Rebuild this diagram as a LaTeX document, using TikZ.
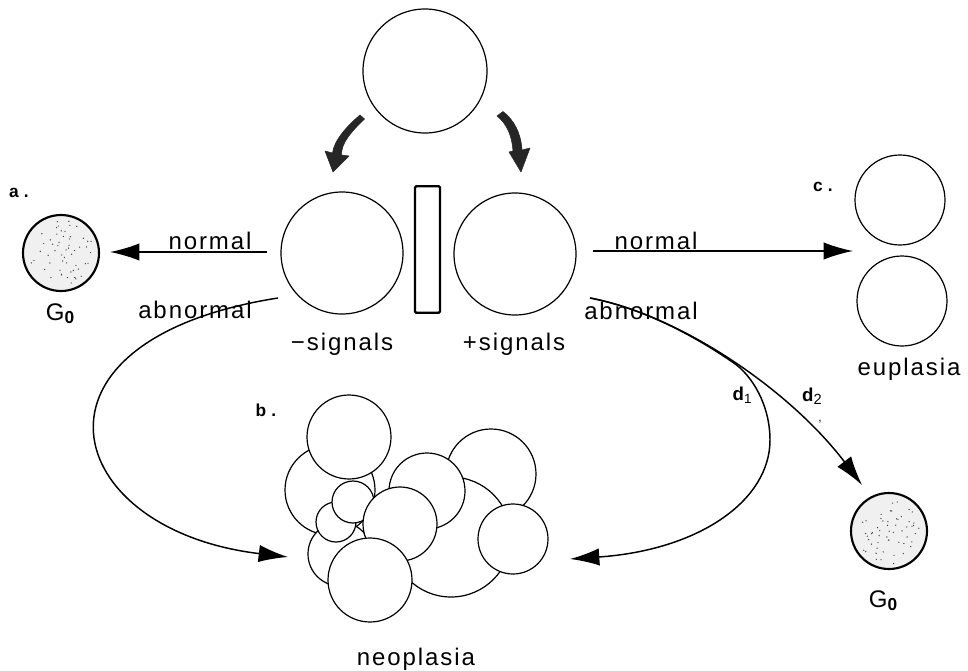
\documentclass[tikz,border=0pt]{standalone}
\usepackage{fontspec}
\setmainfont{Liberation Sans}
\newfontfamily\lblfont[LetterSpace=8]{Liberation Sans}
\newfontfamily\tagfont[LetterSpace=30]{Liberation Sans}
\usetikzlibrary{arrows.meta}
\begin{document}
\begin{tikzpicture}[x=0.75pt,y=-0.75pt,
  cell/.style={circle,draw=black,line width=0.9pt,fill=white,inner sep=0pt,minimum size=#1},
  gcell/.style={circle,draw=black,line width=1.6pt,fill=gray!12,inner sep=0pt,minimum size=#1},
  lbl/.style={font=\lblfont\fontsize{18pt}{20pt}\selectfont,inner sep=0pt},
  tag/.style={font=\tagfont\fontsize{13pt}{14pt}\selectfont\bfseries,inner sep=0pt},
  conn/.style={line width=1.1pt,-{Latex[length=22pt,width=13pt]}},
  bigarrow/.style={fill=black!85,draw=black!85,line width=0.4pt,line join=round}]
\useasboundingbox (0,0) rectangle (968,671);
\fill[white] (0,0) rectangle (968,671);

% main cells
\node[cell=93pt] (top) at (425,71) {};
\node[cell=91.5pt] (lc) at (342,253) {};
\node[cell=91.5pt] (rc) at (515,254) {};
\node[draw=black,line width=1.7pt,fill=white,rounded corners=1pt,inner sep=0pt,
      minimum width=18.75pt,minimum height=95pt] (bar) at (427.5,249.5) {};
\node[cell=67.5pt] (eu1) at (900,200) {};
\node[cell=67.5pt] (eu2) at (902,301) {};
\node[gcell=57pt] (g0a) at (61,253) {};
\node[gcell=57pt] (g0b) at (889,531) {};

% stipple
\pgfmathsetseed{7}
\foreach \c in {g0a,g0b}{
  \foreach \i in {1,...,55}{
    \pgfmathsetmacro\rr{33*sqrt(rnd)}
    \pgfmathsetmacro\aa{360*rnd}
    \fill[black!75] ([shift={(\aa:\rr)}]\c.center) circle[radius=0.7];
  }
}

% neoplasia cluster (back to front)
\node[cell=67.5pt] (k7) at (491,474) {};
\node[cell=90pt] (k8) at (451,537) {};
\node[cell=67.5pt] (k2) at (330,490) {};
\node[cell=48pt] (k11) at (340,554) {};
\node[cell=30pt] (k4) at (336,522) {};
\node[cell=31.5pt] (k3) at (353,502) {};
\node[cell=63pt] (k1) at (349,437) {};
\node[cell=57pt] (k6) at (427,491) {};
\node[cell=55.5pt] (k5) at (400,524) {};
\node[cell=52.5pt] (k9) at (513,539) {};
\node[cell=63pt] (k10) at (370,580) {};

% connector end points
\coordinate (ta1) at (333,172);
\coordinate (tb1) at (521,172);
\coordinate (nl0) at (267,252);
\coordinate (nl1) at (110,252);
\coordinate (nr0) at (593,251);
\coordinate (nr1) at (853,251);
\coordinate (al0) at (278,298);
\coordinate (al1) at (288,557);
\coordinate (ar0) at (590,298);
\coordinate (d2e) at (862,485);
\coordinate (d1m) at (732.75,362.25);
\coordinate (d1r) at (770,440);
\coordinate (d1e) at (570,559);

% thick tapered arrows from the top cell
\filldraw[bigarrow] (360,115) .. controls (348,125) and (334,140) .. (332.5,153)
   -- (325,151) -- (ta1) -- (349,156) -- (341.5,155)
   .. controls (341,143) and (352,131) .. (364.5,119) -- cycle;
\filldraw[bigarrow] (497,116) .. controls (507,124) and (512,136) .. (513,151)
   -- (509,152) -- (tb1) -- (530,148) -- (522,150)
   .. controls (521,133) and (514,120) .. (503,111.5) -- cycle;

% normal paths
\draw[conn] (nl0) -- (nl1);
\draw[conn] (nr0) -- (nr1);

% abnormal paths
\draw[conn] (al0) .. controls (10,340) and (60,530) .. (al1);
\draw[conn] (ar0) .. controls (680,315) and (790,390) .. (d2e);
\draw[conn] (ar0) .. controls (635,306.5) and (685,329.5) .. (d1m)
   .. controls (752,375) and (770,405) .. (d1r)
   .. controls (770,500) and (700,550) .. (d1e);

% labels
\node[lbl,anchor=base] (tnl) at (210,249) {normal};
\node[lbl,anchor=base] (tnr) at (656,249) {normal};
\node[lbl,anchor=base] (tal) at (195,318) {abnormal};
\node[lbl,anchor=base] (tar) at (641,319) {abnormal};
\node[lbl,anchor=base] (tms) at (342,350) {−signals};
\node[lbl,anchor=base] (tps) at (514,350) {+signals};
\node[lbl,anchor=base] (teu) at (909,375) {euplasia};
\node[lbl,anchor=base] (tne) at (416,665) {neoplasia};
\node[font=\fontsize{18pt}{20pt}\selectfont,inner sep=0pt,anchor=base] (tga) at (60,320)
  {G\raisebox{-2.5pt}{\fontsize{13pt}{13pt}\selectfont\bfseries 0}};
\node[font=\fontsize{18pt}{20pt}\selectfont,inner sep=0pt,anchor=base] (tgb) at (883,607)
  {G\raisebox{-2.5pt}{\fontsize{13pt}{13pt}\selectfont\bfseries 0}};
\node[tag] (la) at (19,193) {a.};
\node[tag] (lb) at (266,410) {b.};
\node[tag] (lcc) at (823,187) {c.};
\node[inner sep=0pt] (ld1) at (742,395) {\fontsize{14pt}{15pt}\selectfont\bfseries d\raisebox{-2pt}{\fontsize{10pt}{10pt}\selectfont\mdseries 1}};
\node[inner sep=0pt] (ld2) at (812,396) {\fontsize{14pt}{15pt}\selectfont\bfseries d\raisebox{-2pt}{\fontsize{11pt}{11pt}\selectfont\mdseries 2}};
\node[inner sep=0pt,font=\fontsize{9pt}{10pt}\selectfont] (cm) at (820,422) {,};
\end{tikzpicture}
\end{document}
